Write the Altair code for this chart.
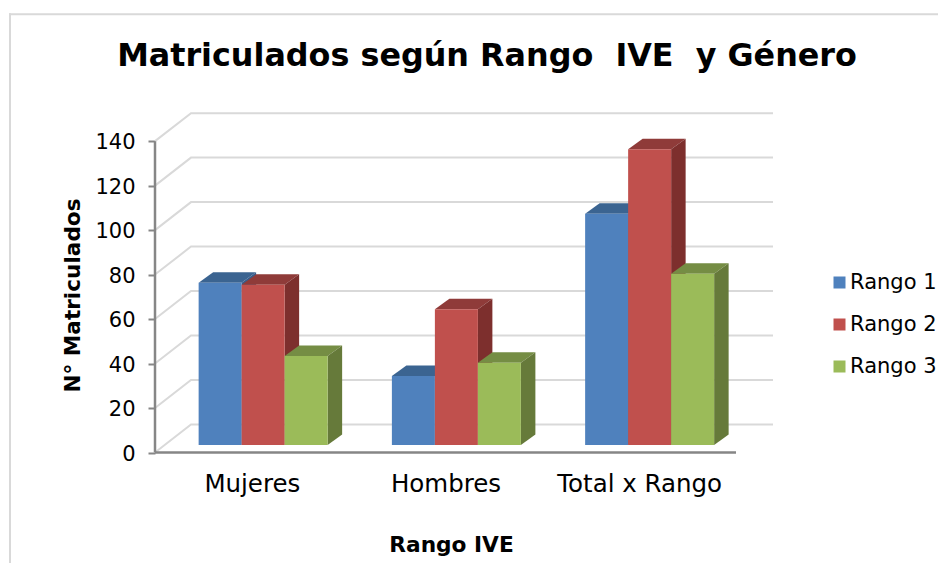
import altair as alt
import pandas as pd

categories = ["Mujeres", "Hombres", "Total x Rango"]
series = ["Rango 1", "Rango 2", "Rango 3"]
rango_1 = [73, 31, 104]
rango_2 = [72, 61, 133]
rango_3 = [40, 37, 77]
values = [rango_1, rango_2, rango_3]
y_ticks = [0, 20, 40, 60, 80, 100, 120, 140]

front = ["#4F81BD", "#C0504D", "#9BBB59"]
topc = ["#3B6491", "#8F3B39", "#758D44"]
sidec = ["#385D8A", "#7D2F2D", "#667A3A"]

# scales: one x unit is one category slot, one y unit is one matriculado
W, H = 930, 555
PX_X, PX_Y = 193.67, 2.224
X0, Y0 = 147.0, 444.5  # origin of the data inside the canvas
x_dom = [-X0 / PX_X, (W - X0) / PX_X]
y_dom = [-(H - Y0) / PX_Y, Y0 / PX_Y]
xs = alt.Scale(domain=x_dom, nice=False, zero=False)
ys = alt.Scale(domain=y_dom, nice=False, zero=False)

WALL_DX, WALL_DY = 36 / PX_X, 28 / PX_Y
WALL_END = 618 / PX_X
BAR_W = 43.0 / PX_X
BAR_SHIFT = 11.3 / PX_X
GROUP_STEP = 193.25 / PX_X
BASE = 7.5 / PX_Y
DEPTH_X, DEPTH_Y = 14.5 / PX_X, 10.5 / PX_Y

GRID = "#D9D9D9"
AXIS = "#868686"
FONT = "DejaVu Sans"

xa = alt.Axis(
    values=[0.5, 1.5, 2.5],
    labelExpr="['" + "','".join(categories) + "'][floor(datum.value)]",
    orient="bottom", offset=-(H - Y0), domain=False, ticks=False, grid=False,
    labelFont=FONT, labelFontSize=24.5, labelColor="#000000", labelPadding=20,
    title="Rango IVE", titleFont=FONT, titleFontSize=21.7, titleFontWeight="bold",
    titleColor="#000000", titleX=443, titleY=82, titleAnchor="middle",
)
ya = alt.Axis(
    values=y_ticks, orient="left", offset=-X0, domain=False, grid=False,
    tickColor=AXIS, tickWidth=2, tickSize=7,
    labelFont=FONT, labelFontSize=21, labelColor="#000000", labelPadding=13, labelOffset=1.5,
    title="N° Matriculados", titleFont=FONT, titleFontSize=21.6, titleFontWeight="bold",
    titleColor="#000000", titleX=-71, titleY=287, titleAnchor="middle",
)

grid_rows = []
for t in y_ticks:
    grid_rows += [
        {"k": t, "o": 0, "x": 0, "y": t},
        {"k": t, "o": 1, "x": WALL_DX, "y": t + WALL_DY},
        {"k": t, "o": 2, "x": WALL_END, "y": t + WALL_DY},
    ]
grid = (
    alt.Chart(pd.DataFrame(grid_rows))
    .mark_line(color=GRID, strokeWidth=2)
    .encode(
        x=alt.X("x:Q", scale=xs, axis=xa),
        y=alt.Y("y:Q", scale=ys, axis=ya),
        detail="k:N",
        order="o:Q",
    )
)

axis_y = (
    alt.Chart(pd.DataFrame({"x": [0], "y": [0], "y2": [max(y_ticks)]}))
    .mark_rule(color=AXIS, strokeWidth=2.5)
    .encode(x=alt.X("x:Q", scale=xs, axis=xa), y=alt.Y("y:Q", scale=ys, axis=ya), y2="y2:Q")
)
axis_x = (
    alt.Chart(pd.DataFrame({"x": [0], "x2": [len(categories)], "y": [0]}))
    .mark_rule(color=AXIS, strokeWidth=2.5)
    .encode(x=alt.X("x:Q", scale=xs, axis=xa), x2="x2:Q", y=alt.Y("y:Q", scale=ys, axis=ya))
)

border_top = alt.Chart(pd.DataFrame({"a": [0]})).mark_rule(color=GRID, strokeWidth=2).encode(
    x=alt.value(1), x2=alt.value(W), y=alt.value(6.3)
)
border_left = alt.Chart(pd.DataFrame({"a": [0]})).mark_rule(color=GRID, strokeWidth=2).encode(
    x=alt.value(2), y=alt.value(5.3), y2=alt.value(H)
)

layers = [grid, axis_y, axis_x]

for s, name in enumerate(series):
    front_rows, top_rows, side_rows = [], [], []
    for c, cat in enumerate(categories):
        v = values[s][c]
        a = 0.5 + c * GROUP_STEP + BAR_SHIFT + (s - 1.5) * BAR_W
        b = a + BAR_W
        t = BASE + v
        front_rows.append({"serie": name, "a": a, "b": b, "y0": BASE, "y1": t})
        top_rows += [
            {"k": cat, "y": t, "a": a, "b": b},
            {"k": cat, "y": t + DEPTH_Y, "a": a + DEPTH_X, "b": b + DEPTH_X},
        ]
        side_rows += [
            {"k": cat, "x": b, "l": BASE, "u": t},
            {"k": cat, "x": b + DEPTH_X, "l": BASE + DEPTH_Y, "u": t + DEPTH_Y},
        ]
    layers.append(
        alt.Chart(pd.DataFrame(top_rows))
        .mark_area(orient="horizontal", color=topc[s])
        .encode(
            x=alt.X("a:Q", scale=xs, axis=xa, stack=None), x2="b:Q",
            y=alt.Y("y:Q", scale=ys, axis=ya), detail="k:N",
        )
    )
    layers.append(
        alt.Chart(pd.DataFrame(side_rows))
        .mark_area(color=sidec[s])
        .encode(
            x=alt.X("x:Q", scale=xs, axis=xa),
            y=alt.Y("l:Q", scale=ys, axis=ya, stack=None), y2="u:Q", detail="k:N",
        )
    )
    layers.append(
        alt.Chart(pd.DataFrame(front_rows))
        .mark_bar()
        .encode(
            x=alt.X("a:Q", scale=xs, axis=xa), x2="b:Q",
            y=alt.Y("y0:Q", scale=ys, axis=ya), y2="y1:Q",
            color=alt.Color(
                "serie:N",
                scale=alt.Scale(domain=series, range=front),
                legend=alt.Legend(
                    orient="none", legendX=821, legendY=264, title=None,
                    symbolType="square", symbolSize=144, symbolStrokeWidth=0,
                    labelFont=FONT, labelFontSize=21, labelColor="#000000",
                    labelOffset=0, rowPadding=20, labelLimit=200,
                ),
            ),
        )
    )
layers += [border_top, border_left]

chart = (
    alt.layer(*layers)
    .properties(
        width=W, height=H,
        autosize=alt.AutoSizeParams(type="none"),
        padding=0,
        background="#FFFFFF",
        title=alt.TitleParams(
            "Matriculados según Rango\u00a0 IVE\u00a0 y Género",
            font=FONT, fontSize=31.8, fontWeight="bold", color="#000000",
            anchor="middle", dx=14, offset=-65,
        ),
    )
    .configure_view(stroke=None)
)

chart.save("out.html", embed_options={"renderer": "svg", "actions": False})
